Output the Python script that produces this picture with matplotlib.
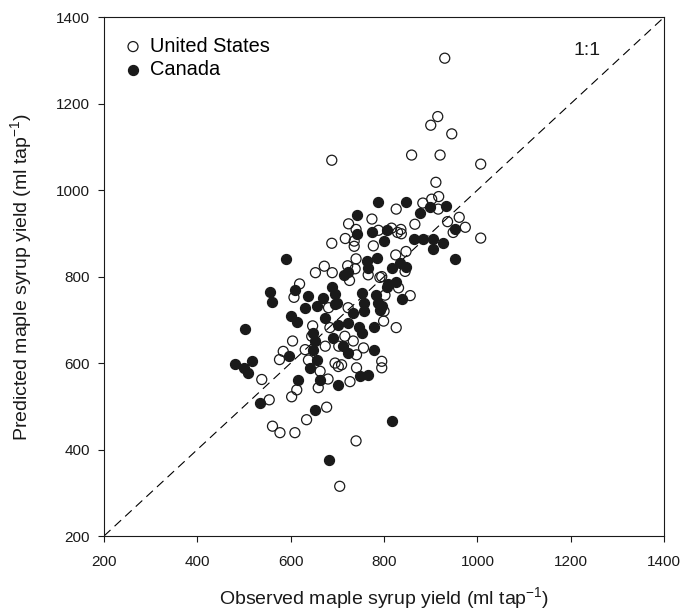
import matplotlib
matplotlib.use("Agg")
import matplotlib.pyplot as plt

plt.rcParams['font.family'] = ['Liberation Sans', 'DejaVu Sans']
plt.rcParams['mathtext.fontset'] = 'custom'
plt.rcParams['mathtext.rm'] = 'Liberation Sans'
plt.rcParams['mathtext.it'] = 'Liberation Sans:italic'

# United States (open circles): observed, predicted
us_obs = [688, 826, 774, 724, 740, 788, 816, 829, 717, 736, 736, 688, 777, 825,
          672, 653, 689, 740, 722, 738, 766, 726, 791, 619, 607, 681, 802, 723,
          859, 920, 1007, 911, 883, 902, 917, 916, 866, 936, 961, 974, 948, 1007,
          836, 837, 847, 845, 795, 831, 856, 800,
          799, 826, 684, 647, 645, 716, 734, 604, 584, 576, 631, 674, 703, 756,
          741, 638, 538, 663, 695, 702, 709, 741, 795, 795, 727, 613, 602, 659,
          680, 554, 677, 634, 561, 577, 609, 740, 705,
          930, 900, 915, 945]
us_pred = [1069, 956, 933, 922, 909, 907, 912, 902, 888, 882, 870, 877, 871, 850,
           824, 809, 809, 841, 825, 818, 804, 791, 798, 783, 752, 728, 757, 728,
           1081, 1081, 1060, 1018, 970, 979, 985, 956, 921, 927, 937, 914, 902, 889,
           909, 899, 858, 812, 800, 774, 756, 720,
           697, 682, 682, 686, 662, 662, 651, 651, 627, 608, 631, 639, 639, 635,
           619, 607, 562, 581, 600, 592, 596, 589, 604, 589, 557, 538, 522, 543,
           563, 515, 498, 469, 454, 439, 439, 420, 315,
           1305, 1150, 1170, 1130]

# Canada (filled circles): observed, predicted
ca_obs = [787, 741, 743, 774, 806, 799, 589, 763, 784, 715, 723, 765, 816, 809,
          825, 556, 561, 610, 638, 689, 695, 670, 699, 631, 657, 752, 783, 756,
          788, 600, 674, 734, 757, 791,
          847, 899, 933, 876, 951, 864, 883, 904, 927, 904, 952, 834, 847, 806,
          838, 795,
          695, 613, 502, 702, 723, 779, 747, 752, 648, 652, 691, 713, 597, 648,
          779, 723, 656, 481, 499, 509, 518, 641, 749, 766, 702, 616, 663, 534,
          652, 818, 683]
ca_pred = [973, 942, 898, 903, 907, 882, 840, 837, 843, 804, 810, 819, 819, 783,
           787, 764, 742, 769, 756, 777, 760, 751, 739, 728, 731, 761, 758, 739,
           739, 708, 705, 716, 720, 723,
           973, 962, 964, 946, 909, 888, 888, 886, 877, 864, 841, 832, 823, 776,
           748, 731,
           736, 696, 678, 689, 693, 684, 684, 670, 670, 651, 659, 639, 616, 631,
           630, 624, 608, 597, 589, 578, 604, 589, 570, 573, 549, 561, 561, 507,
           491, 465, 375]

ticks = [200, 400, 600, 800, 1000, 1200, 1400]
series_labels = ['United States', 'Canada']

fig = plt.figure(figsize=(6.84, 6.11), dpi=100)
ax = fig.add_axes([0.152, 0.1227, 0.819, 0.8493])

ax.plot([200, 1400], [200, 1400], color='black', lw=0.8, dashes=(8, 5), zorder=1)

ax.scatter(us_obs, us_pred, s=52, facecolors='none', edgecolors='#1a1a1a',
           linewidths=0.9, label=series_labels[0], zorder=3)
ax.scatter(ca_obs, ca_pred, s=52, facecolors='#1a1a1a', edgecolors='#1a1a1a',
           linewidths=0.9, label=series_labels[1], zorder=2)

ax.set_xlim(200, 1400)
ax.set_ylim(200, 1400)
ax.set_xticks(ticks)
ax.set_yticks(ticks)
ax.tick_params(direction='out', length=4, width=0.8, labelsize=11,
               top=False, right=False, colors='#1a1a1a')
ax.tick_params(axis='x', pad=10)
ax.tick_params(axis='y', pad=6)
for sp in ax.spines.values():
    sp.set_linewidth(0.8)
    sp.set_color('#1a1a1a')

ax.set_xlabel('Observed maple syrup yield (ml tap$^{-1}$)', fontsize=14,
              color='#1a1a1a', labelpad=11)
ax.set_ylabel('Predicted maple syrup yield (ml tap$^{-1}$)', fontsize=14,
              color='#1a1a1a', labelpad=16)

ax.text(1235, 1323, '1:1', fontsize=14, ha='center', va='center', color='#1a1a1a')

leg = ax.legend(loc='upper left', bbox_to_anchor=(0.034, 0.962), frameon=False,
                fontsize=14.4, handletextpad=0.35, labelspacing=0.2,
                handlelength=1.0, borderaxespad=0.0, borderpad=0.0)

fig.savefig('out.png', dpi=100)
